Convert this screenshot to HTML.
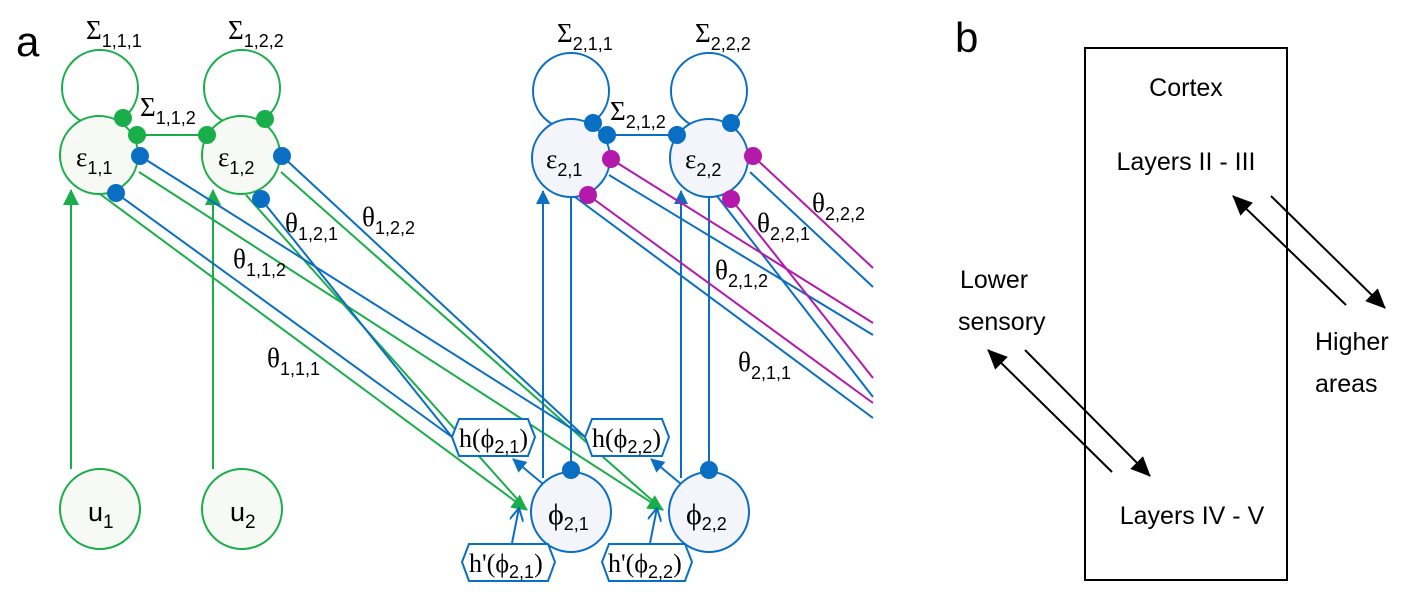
<!DOCTYPE html>
<html><head><meta charset="utf-8"><style>
html,body{margin:0;padding:0;background:#fff}
svg{display:block}
.s{font-family:"Liberation Serif",serif;font-size:27px;fill:#000}
.sb{font-family:"Liberation Sans",sans-serif;font-size:18px}
.t{font-family:"Liberation Sans",sans-serif;font-size:25px;fill:#000}
</style></head><body>
<svg width="1424" height="607" viewBox="0 0 1424 607" xmlns="http://www.w3.org/2000/svg">
<defs>
<marker id="ag" markerWidth="10" markerHeight="10" refX="9" refY="5" orient="auto" markerUnits="userSpaceOnUse" viewBox="0 0 10 10"><path d="M0,0 L10,5 L0,10z" fill="#1aae4a"/></marker>
<marker id="ab" markerWidth="14" markerHeight="14" refX="13" refY="7" orient="auto" markerUnits="userSpaceOnUse" viewBox="0 0 14 14"><path d="M0,0 L14,7 L0,14z" fill="#0a6fc2"/></marker>
<marker id="agb" markerWidth="16" markerHeight="16" refX="15" refY="8" orient="auto" markerUnits="userSpaceOnUse" viewBox="0 0 16 16"><path d="M0,0 L16,8 L0,16z" fill="#1aae4a"/></marker>
<marker id="ak" markerWidth="20" markerHeight="18" refX="19" refY="9" orient="auto" markerUnits="userSpaceOnUse" viewBox="0 0 20 18"><path d="M0,0 L20,9 L0,18z" fill="#000"/></marker>
<marker id="ao" markerWidth="14" markerHeight="14" refX="13" refY="7" orient="auto" markerUnits="userSpaceOnUse" viewBox="0 0 14 14"><path d="M0,0 L13,7 L0,14" fill="none" stroke="#0a6fc2" stroke-width="2"/></marker>
</defs>
<text x="16" y="56" font-family="Liberation Sans,sans-serif" font-size="42">a</text>
<text x="955" y="52" font-family="Liberation Sans,sans-serif" font-size="42">b</text>

<g fill="none" stroke-width="2">
<!-- green lines level 1 -->
<g stroke="#1aae4a">
<circle cx="100" cy="88" r="38"/>
<circle cx="242" cy="88" r="38"/>
<line x1="137" y1="135" x2="207" y2="135"/>
<line x1="71" y1="469" x2="71" y2="190" marker-end="url(#agb)"/>
<line x1="213" y1="469" x2="213" y2="190" marker-end="url(#agb)"/>
<line x1="100" y1="194" x2="527" y2="510" marker-end="url(#agb)"/>
<line x1="139" y1="172" x2="663" y2="510" marker-end="url(#agb)"/>
<line x1="246" y1="195" x2="527" y2="510"/>
<line x1="281" y1="172" x2="663" y2="510"/>
</g>
<g stroke="#0a6fc2">
<line x1="140" y1="156" x2="585" y2="437"/>
<line x1="116" y1="193" x2="452" y2="437"/>
<line x1="282" y1="156" x2="585" y2="437"/>
<line x1="261" y1="199" x2="452" y2="437"/>
<circle cx="571" cy="91" r="38"/>
<circle cx="709" cy="91" r="38"/>
<line x1="607" y1="135" x2="677" y2="135"/>
<line x1="543" y1="478" x2="543" y2="191" marker-end="url(#ab)"/>
<line x1="681" y1="478" x2="681" y2="191" marker-end="url(#ab)"/>
<line x1="571" y1="197" x2="571" y2="470"/>
<line x1="709" y1="197" x2="709" y2="470"/>
<line x1="543" y1="484" x2="513" y2="459" marker-end="url(#ab)"/>
<line x1="681" y1="484" x2="651" y2="459" marker-end="url(#ab)"/>
<line x1="512" y1="543" x2="519" y2="508" marker-end="url(#ao)"/>
<line x1="650" y1="543" x2="657" y2="508" marker-end="url(#ao)"/>
<line x1="609" y1="175" x2="873" y2="335"/>
<line x1="575" y1="197" x2="873" y2="418"/>
<line x1="750" y1="172" x2="873" y2="287"/>
<line x1="717" y1="196" x2="873" y2="397"/>
</g>
<g stroke="#b31aac">
<line x1="611" y1="159" x2="873" y2="323"/>
<line x1="588" y1="195" x2="873" y2="403"/>
<line x1="753" y1="156" x2="873" y2="268"/>
<line x1="731" y1="199" x2="873" y2="378"/>
</g>
</g>

<!-- nodes -->
<g stroke-width="2">
<circle cx="99" cy="155" r="39" fill="#f6f9f4" stroke="#1aae4a"/>
<circle cx="241" cy="155" r="39" fill="#f6f9f4" stroke="#1aae4a"/>
<circle cx="100" cy="509" r="40" fill="#f6f9f4" stroke="#1aae4a"/>
<circle cx="242" cy="509" r="40" fill="#f6f9f4" stroke="#1aae4a"/>
<circle cx="571" cy="158" r="39" fill="#f3f5fb" stroke="#0a6fc2"/>
<circle cx="709" cy="158" r="39" fill="#f3f5fb" stroke="#0a6fc2"/>
<circle cx="571" cy="512" r="40" fill="#f3f5fb" stroke="#0a6fc2"/>
<circle cx="709" cy="512" r="40" fill="#f3f5fb" stroke="#0a6fc2"/>
</g>
<g fill="#1aae4a">
<circle cx="123" cy="118" r="9"/><circle cx="137" cy="135" r="9"/>
<circle cx="265" cy="119" r="9"/><circle cx="207" cy="135" r="9"/>
</g>
<g fill="#0a6fc2">
<circle cx="140" cy="156" r="9"/><circle cx="116" cy="193" r="9"/>
<circle cx="282" cy="156" r="9"/><circle cx="261" cy="199" r="9"/>
<circle cx="593" cy="123" r="9"/><circle cx="607" cy="135" r="9"/>
<circle cx="677" cy="135" r="9"/><circle cx="731" cy="123" r="9"/>
<circle cx="571" cy="470" r="9"/><circle cx="709" cy="470" r="9"/>
</g>
<g fill="#b31aac">
<circle cx="611" cy="159" r="9"/><circle cx="588" cy="195" r="9"/>
<circle cx="753" cy="156" r="9"/><circle cx="731" cy="199" r="9"/>
</g>

<!-- hex boxes -->
<g fill="#fff" stroke="#0a6fc2" stroke-width="2">
<path d="M452,437 L459,419 L528,419 L535,437 L528,456 L459,456z"/>
<path d="M585,437 L592,419 L662,419 L669,437 L662,456 L592,456z"/>
<path d="M462,562 L469,544 L548,544 L555,562 L548,581 L469,581z"/>
<path d="M602,562 L609,544 L685,544 L692,562 L685,581 L609,581z"/>
</g>
<g font-family="Liberation Serif,serif" font-size="26">
<text x="459" y="447">h(ϕ<tspan class="sb" dy="6">2,1</tspan><tspan dy="-6">)</tspan></text>
<text x="592" y="447">h(ϕ<tspan class="sb" dy="6">2,2</tspan><tspan dy="-6">)</tspan></text>
<text x="469" y="572">h'(ϕ<tspan class="sb" dy="6">2,1</tspan><tspan dy="-6">)</tspan></text>
<text x="608" y="572">h'(ϕ<tspan class="sb" dy="6">2,2</tspan><tspan dy="-6">)</tspan></text>
</g>

<!-- labels -->
<g class="s">
<text x="76" y="166">ε<tspan class="sb" font-size="20" dy="8">1,1</tspan></text>
<text x="218" y="166">ε<tspan class="sb" font-size="20" dy="8">1,2</tspan></text>
<text x="546" y="168">ε<tspan class="sb" font-size="20" dy="8">2,1</tspan></text>
<text x="685" y="168">ε<tspan class="sb" font-size="20" dy="8">2,2</tspan></text>
<text x="548" y="524" font-size="30">ϕ<tspan class="sb" font-size="20" dy="6">2,1</tspan></text>
<text x="686" y="524" font-size="30">ϕ<tspan class="sb" font-size="20" dy="6">2,2</tspan></text>
<text x="86" y="39">Σ<tspan class="sb" dy="8">1,1,1</tspan></text>
<text x="228" y="39">Σ<tspan class="sb" dy="8">1,2,2</tspan></text>
<text x="140" y="116">Σ<tspan class="sb" dy="8">1,1,2</tspan></text>
<text x="557" y="42">Σ<tspan class="sb" dy="8">2,1,1</tspan></text>
<text x="695" y="42">Σ<tspan class="sb" dy="8">2,2,2</tspan></text>
<text x="610" y="120">Σ<tspan class="sb" dy="8">2,1,2</tspan></text>
<text x="285" y="232">θ<tspan class="sb" dy="8">1,2,1</tspan></text>
<text x="362" y="226">θ<tspan class="sb" dy="8">1,2,2</tspan></text>
<text x="233" y="268">θ<tspan class="sb" dy="8">1,1,2</tspan></text>
<text x="267" y="367">θ<tspan class="sb" dy="8">1,1,1</tspan></text>
<text x="757" y="232">θ<tspan class="sb" dy="8">2,2,1</tspan></text>
<text x="812" y="212">θ<tspan class="sb" dy="8">2,2,2</tspan></text>
<text x="715" y="279">θ<tspan class="sb" dy="8">2,1,2</tspan></text>
<text x="738" y="371">θ<tspan class="sb" dy="8">2,1,1</tspan></text>
</g>
<g font-family="Liberation Sans,sans-serif" font-size="27">
<text x="88" y="521">u<tspan font-size="19" dy="7">1</tspan></text>
<text x="230" y="521">u<tspan font-size="19" dy="7">2</tspan></text>
</g>

<!-- panel b -->
<rect x="1085" y="48" width="202" height="532" fill="none" stroke="#000" stroke-width="2"/>
<g class="t" text-anchor="middle">
<text x="1186" y="96">Cortex</text>
<text x="1186" y="170">Layers II - III</text>
<text x="1192" y="524">Layers IV - V</text>
</g>
<g class="t">
<text x="960" y="288">Lower</text>
<text x="958" y="330">sensory</text>
<text x="1315" y="350">Higher</text>
<text x="1315" y="392">areas</text>
</g>
<g stroke="#000" stroke-width="2">
<line x1="1112" y1="472" x2="988" y2="350" marker-end="url(#ak)"/>
<line x1="1025" y1="350" x2="1150" y2="476" marker-end="url(#ak)"/>
<line x1="1346" y1="305" x2="1233" y2="196" marker-end="url(#ak)"/>
<line x1="1271" y1="196" x2="1385" y2="308" marker-end="url(#ak)"/>
</g>
</svg>
</body></html>
